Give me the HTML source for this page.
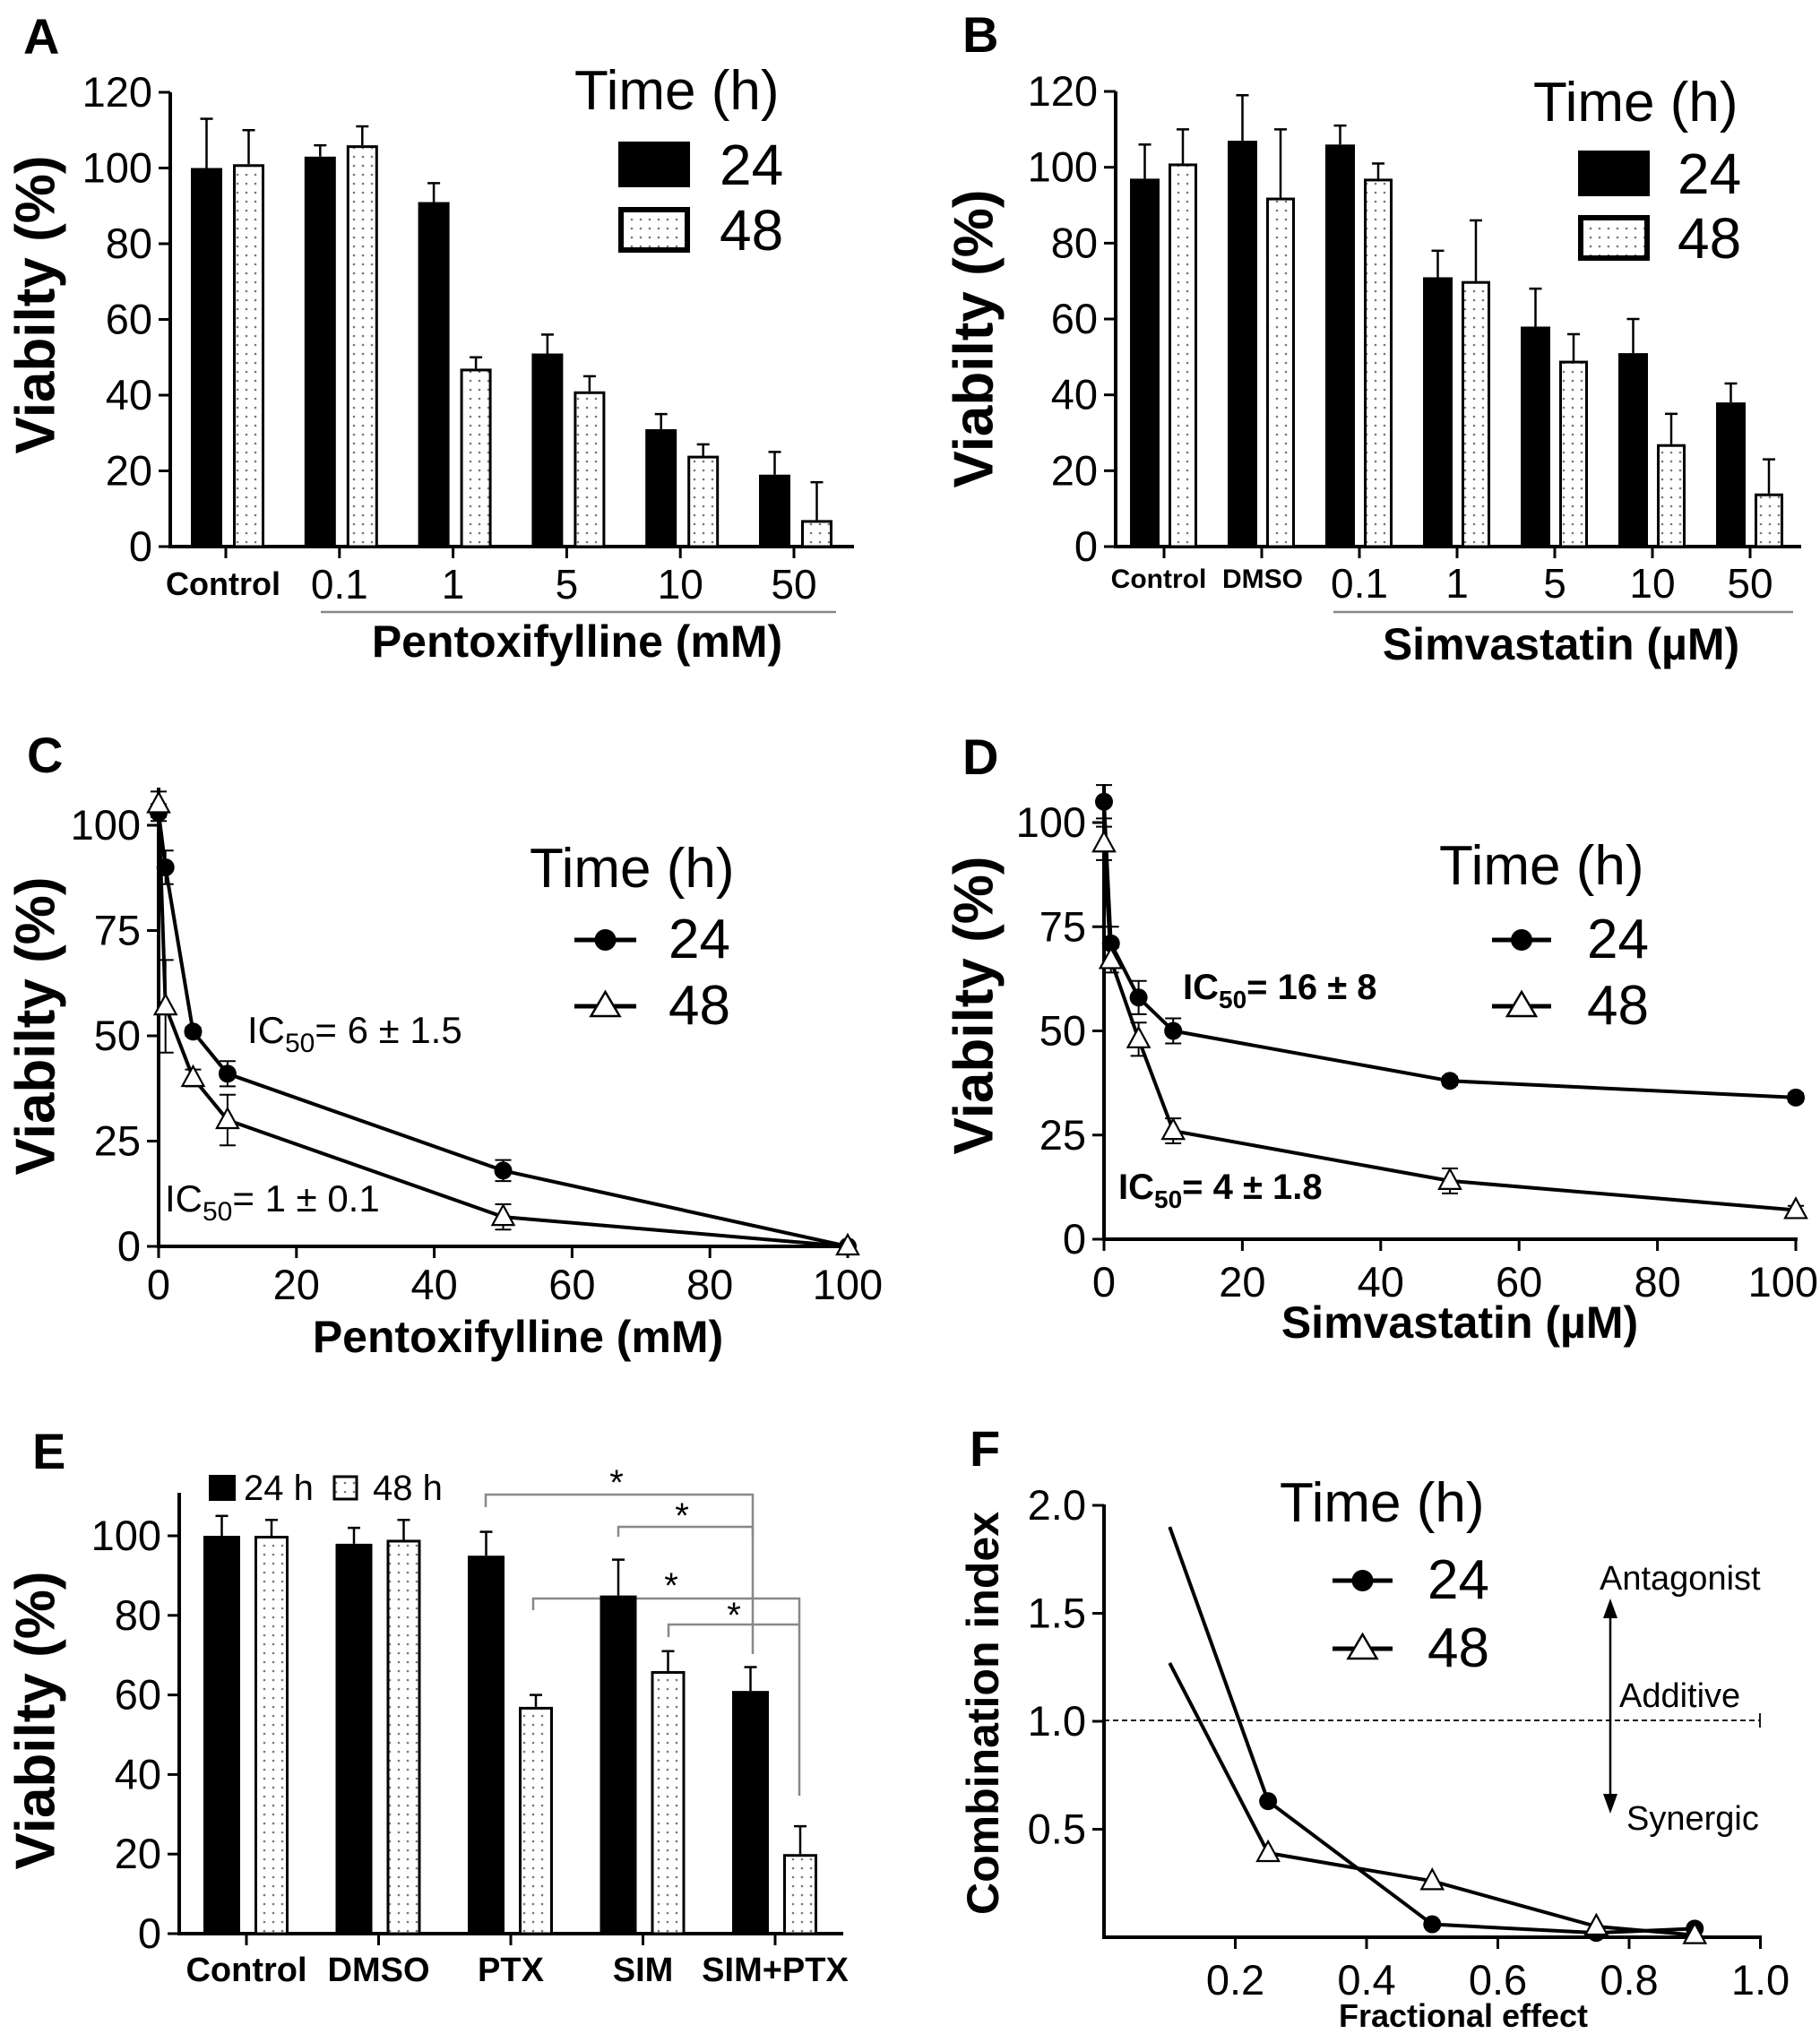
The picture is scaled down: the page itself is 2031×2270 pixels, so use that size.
<!DOCTYPE html>
<html><head><meta charset="utf-8"><style>
html,body{margin:0;padding:0;background:#fff;}
svg{display:block;font-family:"Liberation Sans",Arial,sans-serif;}
</style></head><body>
<svg id="fig" width="2031" height="2270" viewBox="0 0 2031 2270" xmlns="http://www.w3.org/2000/svg">
<defs>
<pattern id="dots" width="10" height="10" patternUnits="userSpaceOnUse"><rect width="10" height="10" fill="#fff"/><circle cx="5" cy="5" r="1.3" fill="#777"/></pattern>
</defs>
</svg>
<script>
// ---------- Panel A data ----------
const A_cats=['Control','0.1','1','5','10','50'];
const A_v24=[100,103,91,51,31,19];
const A_up24=[113,106,96,56,35,25];
const A_v48=[101,106,47,41,24,7];
const A_up48=[110,111,50,45,27,17];
const A_yticks=[0,20,40,60,80,100,120];
// ---------- Panel B data ----------
const B_cats=['Control','DMSO','0.1','1','5','10','50'];
const B_v24=[97,107,106,71,58,51,38];
const B_up24=[106,119,111,78,68,60,43];
const B_v48=[101,92,97,70,49,27,14];
const B_up48=[110,110,101,86,56,35,23];
const B_yticks=[0,20,40,60,80,100,120];
// ---------- Panel C data ----------
const C_x=[0,1,5,10,50,100];
const C_y24=[103,90,51,41,18,0];
const C_e24=[2,4,1,3,2.5,0.5];
const C_y48=[105,57,40,30,7,0];
const C_e48=[3,11,2,6,3,0.5];
const C_yticks=[0,25,50,75,100];
const C_xticks=[0,20,40,60,80,100];
// ---------- Panel D data ----------
const D_x=[0,1,5,10,50,100];
const D_y24=[105,71,58,50,38,34];
const D_e24=[4,4,4,3,1,1];
const D_y48=[95,67,48,26,14,7];
const D_e48=[4,3,4,3,3,1];
const D_yticks=[0,25,50,75,100];
const D_xticks=[0,20,40,60,80,100];
// ---------- Panel E data ----------
const E_cats=['Control','DMSO','PTX','SIM','SIM+PTX'];
const E_v24=[100,98,95,85,61];
const E_up24=[105,102,101,94,67];
const E_v48=[100,99,57,66,20];
const E_up48=[104,104,60,71,27];
const E_yticks=[0,20,40,60,80,100];
// ---------- Panel F data ----------
const F_x24=[0.1,0.25,0.5,0.75,0.9];
const F_y24=[1.9,0.63,0.06,0.02,0.04];
const F_x48=[0.1,0.25,0.5,0.75,0.9];
const F_y48=[1.27,0.39,0.26,0.05,0.01];
const F_yticks=[0.5,1.0,1.5,2.0];
const F_xticks=[0.2,0.4,0.6,0.8,1.0];

const NS='http://www.w3.org/2000/svg';
const svg=document.getElementById('fig');
function mk(tag,attrs,parent){const e=document.createElementNS(NS,tag);for(const k in attrs)e.setAttribute(k,attrs[k]);(parent||svg).appendChild(e);return e;}
function txt(s,x,y,size,opts,parent){opts=opts||{};const e=mk('text',{x:x,y:y,'font-size':size,'text-anchor':opts.anchor||'start','font-weight':opts.bold?'bold':'normal',fill:'#000'},parent);if(opts.rot){e.setAttribute('transform','rotate(-90 '+x+' '+y+')');e.setAttribute('dominant-baseline','central');}e.textContent=s;return e;}
function grp(name){const g=mk('g',{});return g;}

function barPanel(p){
  const g=grp(p.name);
  const Y=v=>p.y0-v*p.ppu;
  const X=i=>p.start+i*p.step;
  if(p.brackets)p.brackets(g,X,Y);
  const ya=mk('line',{x1:p.ax,y1:p.top,x2:p.ax,y2:p.y0+2,stroke:'#000','stroke-width':4},g);
  
  
  const xa=mk('line',{x1:p.ax-2,y1:p.y0,x2:p.end,y2:p.y0,stroke:'#000','stroke-width':4},g);
  
  
  p.yticks.forEach(v=>{
    const t=mk('line',{x1:p.ax-13,y1:Y(v),x2:p.ax,y2:Y(v),stroke:'#000','stroke-width':3},g);
    
    
    const l=txt(String(v),p.ax-20,Y(v)+16,p.tickSize,{anchor:'end'},g);
    
    
  });
  p.cats.forEach((c,i)=>{
    const cx=X(i);
    const t=mk('line',{x1:cx,y1:p.y0,x2:cx,y2:p.y0+13,stroke:'#000','stroke-width':3},g);
    
    
    [[p.v24,p.up24,p.b24],[p.v48,p.up48,p.b48]].forEach(([vals,ups,off])=>{
      const mx=cx+(off[0]+off[1])/2;
      const e1=mk('line',{x1:mx,y1:Y(vals[i]),x2:mx,y2:Y(ups[i]),stroke:'#000','stroke-width':2.5},g);
      
      
      const e2=mk('line',{x1:mx-7,y1:Y(ups[i]),x2:mx+7,y2:Y(ups[i]),stroke:'#000','stroke-width':2.5},g);
      
      
    });
    const b1=mk('rect',{x:cx+p.b24[0],y:Y(p.v24[i]),width:p.b24[1]-p.b24[0],height:p.v24[i]*p.ppu,fill:'#000'},g);
    
    
    const b2=mk('rect',{x:cx+p.b48[0]+1.5,y:Y(p.v48[i])+1.5,width:p.b48[1]-p.b48[0]-3,height:p.v48[i]*p.ppu-1.5,fill:'url(#dots)',stroke:'#000','stroke-width':3},g);
    
    
    const cs=p.catStyle(c,i);
    const l=txt(c,cx+(cs.dx||0),cs.y,cs.size,{anchor:'middle',bold:cs.bold},g);
    
    
  });
  return g;
}

function linePanel(p){
  const g=grp(p.name);
  const Y=v=>p.y0-v*p.ppuY;
  const X=v=>p.ax+v*p.ppuX;
  const ya=mk('line',{x1:p.ax,y1:p.top,x2:p.ax,y2:p.y0+2,stroke:'#000','stroke-width':4},g);
  
  
  const xa=mk('line',{x1:p.ax-2,y1:p.y0,x2:p.end,y2:p.y0,stroke:'#000','stroke-width':4},g);
  
  
  p.yticks.forEach(v=>{
    const t=mk('line',{x1:p.ax-13,y1:Y(v),x2:p.ax,y2:Y(v),stroke:'#000','stroke-width':3},g);
    
    
    const l=txt(p.yfmt?p.yfmt(v):String(v),p.ax-20,Y(v)+16,p.tickSize,{anchor:'end'},g);
    
    
  });
  p.xticks.forEach(v=>{
    const t=mk('line',{x1:X(v),y1:p.y0,x2:X(v),y2:p.y0+13,stroke:'#000','stroke-width':3},g);
    
    
    const s=p.xfmt?p.xfmt(v):String(v);
    const halfW=s.length*p.tickSize*0.28;
    let l;
    if(X(v)+halfW>2029) l=txt(s,2029,p.xlabY,p.tickSize,{anchor:'end'},g);
    else l=txt(s,X(v),p.xlabY,p.tickSize,{anchor:'middle'},g);
    
    
  });
  p.series.forEach(s=>{
    const pts=s.x.map((xv,i)=>X(xv)+','+Y(s.y[i])).join(' ');
    const pl=mk('polyline',{points:pts,fill:'none',stroke:'#000','stroke-width':4,'stroke-linejoin':'round'},g);
    
    
    s.x.forEach((xv,i)=>{
      if(s.skipFirst&&i===0)return;
      const cx=X(xv),cy=Y(s.y[i]);
      if(s.err){
        const e=s.err[i];
        const eb=mk('path',{d:'M'+cx+' '+Y(s.y[i]+e)+'V'+Y(s.y[i]-e)+'M'+(cx-9)+' '+Y(s.y[i]+e)+'H'+(cx+9)+'M'+(cx-9)+' '+Y(s.y[i]-e)+'H'+(cx+9),stroke:'#000','stroke-width':2,fill:'none'},g);
        
        
      }
      let m;
      if(s.marker==='circle'){
        m=mk('circle',{cx:cx,cy:cy,r:10,fill:'#000'},g);
      }else{
        m=mk('polygon',{points:(cx)+','+(cy-13)+' '+(cx-12)+','+(cy+9)+' '+(cx+12)+','+(cy+9),fill:'#fff',stroke:'#000','stroke-width':2.2},g);
      }
      
      
    });
  });
  return g;
}

function lineLegend(x,yTitle,lx1,lx2,y24,y48,tx,name){
  const g=grp(name);
  const t=txt('Time (h)',x,yTitle,62,{},g);
  
  
  [[y24,'24','circle'],[y48,'48','tri']].forEach(([y,l,m])=>{
    const ln=mk('line',{x1:lx1,y1:y,x2:lx2,y2:y,stroke:'#000','stroke-width':5},g);
    
    
    const cx=(lx1+lx2)/2;
    let mm;
    if(m==='circle')mm=mk('circle',{cx:cx,cy:y,r:12,fill:'#000'},g);
    else mm=mk('polygon',{points:cx+','+(y-16)+' '+(cx-16)+','+(y+11)+' '+(cx+16)+','+(y+11),fill:'#fff',stroke:'#000','stroke-width':2.5},g);
    
    
    const tt=txt(l,tx,y+20,62,{},g);
    
    
  });
}
function barLegend(tx,ty,sx,s1y,s2y,lx,name){
  const g=grp(name);
  const t=txt('Time (h)',tx,ty,62,{},g);
  
  
  const r1=mk('rect',{x:sx,y:s1y,width:80,height:51,fill:'#000'},g);
  
  
  const r2=mk('rect',{x:sx+3,y:s2y+3,width:74,height:45,fill:'url(#dots)',stroke:'#000','stroke-width':6},g);
  
  
  const l1=txt('24',lx,s1y+48,64,{},g);
  
  
  const l2=txt('48',lx,s2y+48,64,{},g);
  
  
}
function panelLetter(s,x,y){const t=txt(s,x,y,56,{bold:true});}
function yTitle(s,x,y,size){const t=txt(s,x,y,size,{bold:true,anchor:'middle',rot:true});}
function xTitle(s,x,y,size){const t=txt(s,x,y,size,{bold:true,anchor:'middle'});}
function grayLine(x1,y1,x2,y2,name){const l=mk('line',{x1:x1,y1:y1,x2:x2,y2:y2,stroke:'#888','stroke-width':2.5});}

// ===== Panel A =====
panelLetter('A',26,60);
barPanel({name:'panel-a',ax:190,y0:610,ppu:4.225,top:103,end:953,start:252,step:126.8,b24:[-39,-4],b48:[8,43],
  cats:A_cats,v24:A_v24,up24:A_up24,v48:A_v48,up48:A_up48,yticks:A_yticks,tickSize:47,
  catStyle:(c,i)=>i===0?{y:664,size:36,bold:true,dx:-3}:{y:668,size:46}});
barLegend(641,122,690,158,231,803,'legend-a');
yTitle('Viabilty (%)',40,340,62);
grayLine(358,683,933,683,'group-underline');
xTitle('Pentoxifylline (mM)',644,733,50);

// ===== Panel B =====
panelLetter('B',1074,58);
barPanel({name:'panel-b',ax:1245,y0:610,ppu:4.233,top:102,end:2010,start:1299,step:109,b24:[-38,-5],b48:[5,37],
  cats:B_cats,v24:B_v24,up24:B_up24,v48:B_v48,up48:B_up48,yticks:B_yticks,tickSize:47,
  catStyle:(c,i)=>i===0?{y:656,size:30,bold:true,dx:-6}:(i===1?{y:656,size:30,bold:true,dx:1}:{y:667,size:46})});
barLegend(1711,135,1761,168,240,1872,'legend-b');
yTitle('Viabilty (%)',1087,378,62);
grayLine(1488,683,2001,683,'group-underline');
xTitle('Simvastatin (µM)',1742,736,50);

// ===== Panel C =====
panelLetter('C',30,862);
linePanel({name:'panel-c',ax:177,y0:1391,ppuY:4.7,ppuX:7.69,top:879,end:950,yticks:C_yticks,xticks:C_xticks,tickSize:47,xlabY:1450,
  series:[{label:'24h',x:C_x,y:C_y24,err:C_e24,marker:'circle'},{label:'48h',x:C_x,y:C_y48,err:C_e48,marker:'tri'}]});
lineLegend(591,990,641,710,1049,1123,746,'legend-c');
(function(){const t=txt('',276,1164,42);t.innerHTML='IC<tspan font-size="30" dy="10">50</tspan><tspan dy="-10">= 6 ± 1.5</tspan>';})();
(function(){const t=txt('',184,1352,42);t.innerHTML='IC<tspan font-size="30" dy="10">50</tspan><tspan dy="-10">= 1 ± 0.1</tspan>';})();
yTitle('Viabilty (%)',40,1145,62);
xTitle('Pentoxifylline (mM)',578,1509,50);

// ===== Panel D =====
panelLetter('D',1074,864);
linePanel({name:'panel-d',ax:1232,y0:1383,ppuY:4.65,ppuX:7.72,top:875,end:2006,yticks:D_yticks,xticks:D_xticks,tickSize:47,xlabY:1447,
  series:[{label:'24h',x:D_x,y:D_y24,err:D_e24,marker:'circle'},{label:'48h',x:D_x,y:D_y48,err:D_e48,marker:'tri'}]});
lineLegend(1606,987,1665,1731,1049,1123,1771,'legend-d');
(function(){const t=txt('',1320,1115,40,{bold:true});t.innerHTML='IC<tspan font-size="28" dy="10">50</tspan><tspan dy="-10">= 16 ± 8</tspan>';})();
(function(){const t=txt('',1248,1338,40,{bold:true});t.innerHTML='IC<tspan font-size="28" dy="10">50</tspan><tspan dy="-10">= 4 ± 1.8</tspan>';})();
yTitle('Viabilty (%)',1087,1122,62);
xTitle('Simvastatin (µM)',1629,1493,50);

// ===== Panel E =====
panelLetter('E',36,1639);
barPanel({name:'panel-e',ax:200,y0:2158,ppu:4.44,top:1666,end:941,start:275,step:147.5,b24:[-48,-7],b48:[9,47],
  cats:E_cats,v24:E_v24,up24:E_up24,v48:E_v48,up48:E_up48,yticks:E_yticks,tickSize:47,
  catStyle:(c,i)=>({y:2211,size:38,bold:true}),
  brackets:(g,X,Y)=>{
    function br(x1,x2,yh,yl,yr,sx,sy,n){
      const p=mk('path',{d:'M'+x1+' '+yl+'V'+yh+'H'+x2+'V'+yr,fill:'none',stroke:'#888','stroke-width':2.5},g);
      
      
      const s=txt('*',sx,sy,40,{anchor:'middle'},g);
      
      
    }
    br(542,840,1668,1682,1846,688,1668,1);
    br(690,840,1704,1715,1715,761,1705,2);
    br(595,892,1784,1797,2004,749,1783,3);
    br(746,892,1813,1827,1813,819,1816,4);
  }});
(function(){
  const g=grp('legend-e');
  const r1=mk('rect',{x:233,y:1646,width:30,height:29,fill:'#000'},g);
  
  
  const t1=txt('24 h',272,1674,40,{},g);
  
  
  const r2=mk('rect',{x:373,y:1648,width:25,height:25,fill:'url(#dots)',stroke:'#000','stroke-width':3},g);
  
  
  const t2=txt('48 h',416,1674,40,{},g);
  
  
})();
yTitle('Viabilty (%)',40,1920,62);

// ===== Panel F =====
panelLetter('F',1082,1636);
(function(){
  const g=grp('reference-lines');
  const d=mk('line',{x1:1232,y1:1920,x2:1964,y2:1920,stroke:'#000','stroke-width':1.8,'stroke-dasharray':'6,4'},g);
  
  
  const d2=mk('line',{x1:1964,y1:1912,x2:1964,y2:1928,stroke:'#000','stroke-width':1.8},g);
  
  
  const a=mk('line',{x1:1797,y1:1800,x2:1797,y2:2008,stroke:'#000','stroke-width':2.5},g);
  
  
  const h1=mk('polygon',{points:'1797,1784 1789,1806 1805,1806',fill:'#000'},g);
  
  
  const h2=mk('polygon',{points:'1797,2024 1789,2002 1805,2002',fill:'#000'},g);
  
  
  const t1=txt('Antagonist',1785,1774,38,{},g);
  
  
  const t2=txt('Additive',1807,1905,38,{},g);
  
  
  const t3=txt('Synergic',1815,2042,38,{},g);
  
  
})();
linePanel({name:'panel-f',ax:1232,y0:2162,ppuY:241,ppuX:732.5,top:1679,end:1966,yticks:F_yticks,xticks:F_xticks,tickSize:47,xlabY:2226,
  yfmt:v=>v.toFixed(1),xfmt:v=>v.toFixed(1),
  series:[{label:'24h',x:F_x24,y:F_y24,marker:'circle',skipFirst:true},{label:'48h',x:F_x48,y:F_y48,marker:'tri',skipFirst:true}]});
lineLegend(1428,1698,1487,1554,1764,1840,1593,'legend-f');
yTitle('Combination index',1097,1912,50);
xTitle('Fractional effect',1633,2262,36);
</script>
</body></html>
